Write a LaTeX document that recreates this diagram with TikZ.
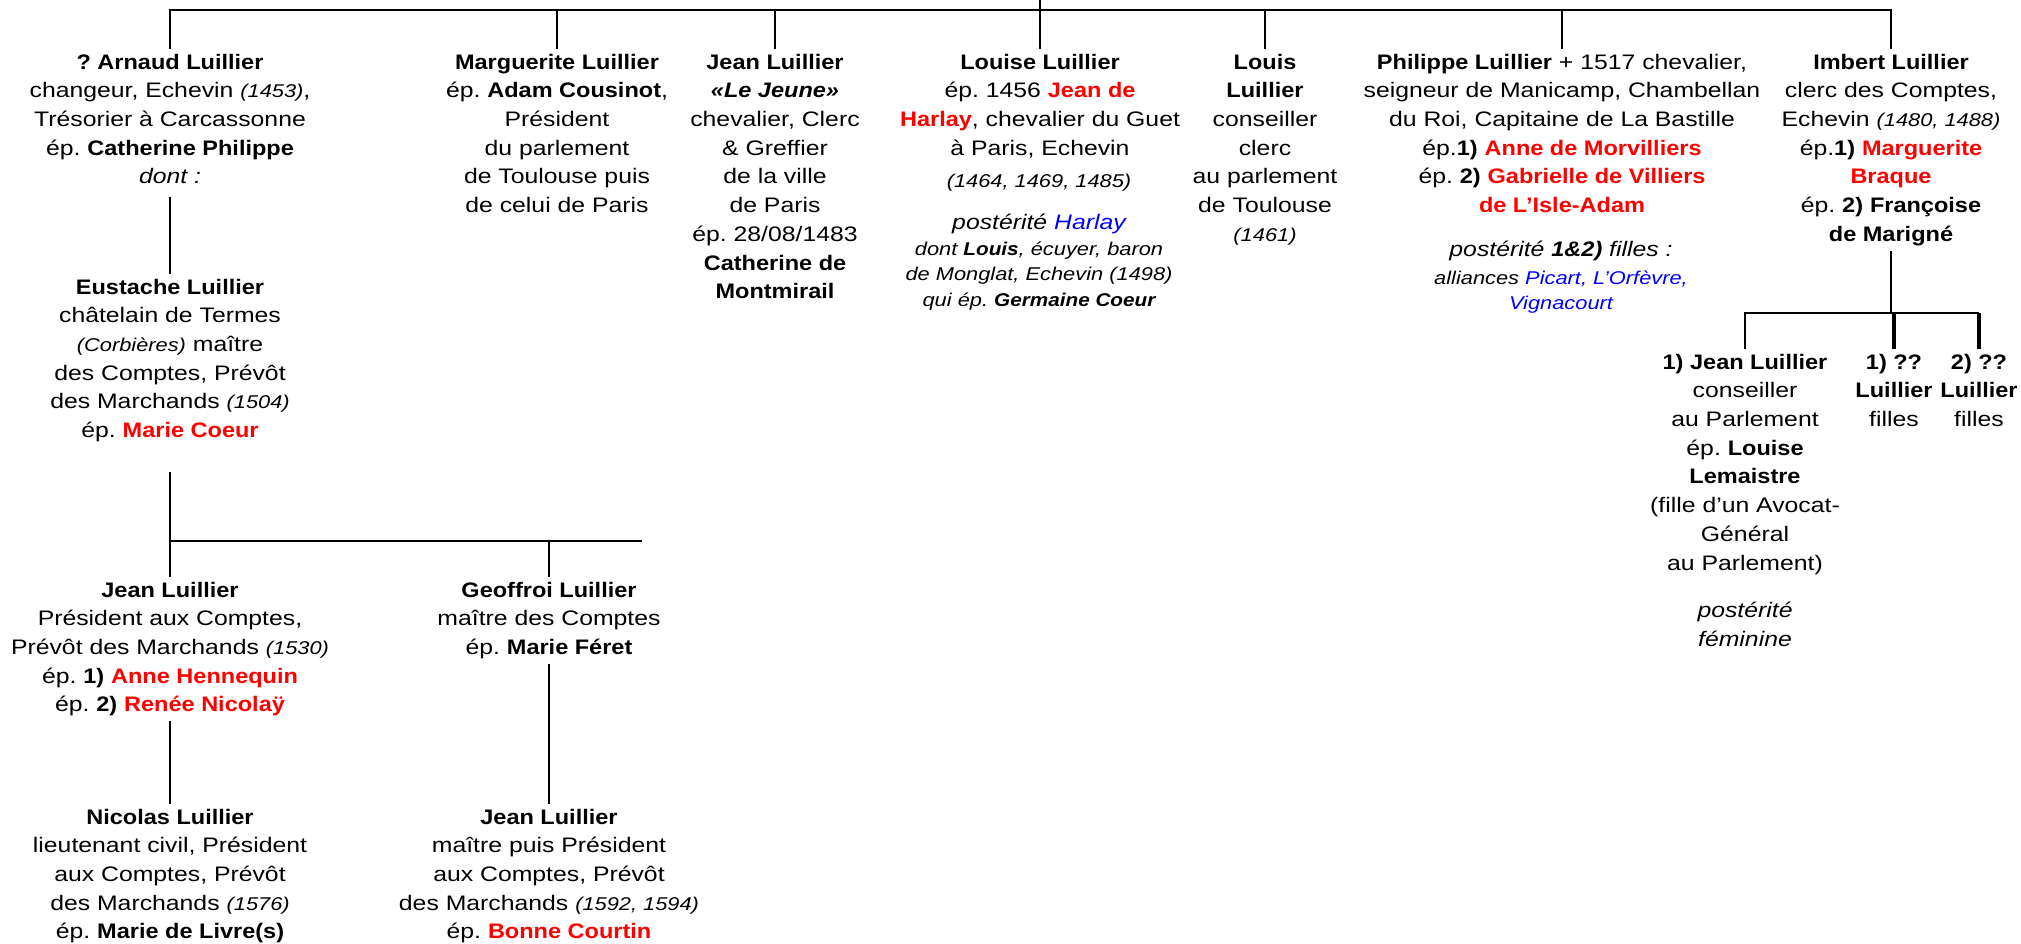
\documentclass[tikz,border=0pt]{standalone}
\usepackage{fontspec}
\setmainfont{Liberation Sans}[UprightFeatures={FakeStretch=1.18},ItalicFeatures={FakeStretch=1.18},BoldFeatures={FakeStretch=1.12},BoldItalicFeatures={FakeStretch=1.12}]
\usepackage{xcolor}
\definecolor{rouge}{RGB}{255,0,0}
\definecolor{bleu}{RGB}{0,0,255}
\newcommand{\petit}{\fontsize{18.5}{25.5}\selectfont}
\newcommand{\rouge}[1]{\textcolor{rouge}{\textbf{#1}}}
\newcommand{\bleu}[1]{\textcolor{bleu}{#1}}
\frenchspacing

\begin{document}
\begin{tikzpicture}[x=1pt,y=-1pt,
  personne/.style={align=center,anchor=north,inner xsep=0pt,inner ysep=5pt,font=\fontsize{21}{28.7}\selectfont},
  note/.style={align=center,anchor=north,inner xsep=0pt,inner ysep=5pt,font=\petit\itshape},
  lien/.style={line width=2pt},
  lienfort/.style={line width=3.5pt}]
\useasboundingbox (0,0) rectangle (2021,943);
% enfants
\node[personne] (arnaud) at (170,48.7) {\textbf{? Arnaud Luillier}\\changeur, Echevin {\petit\itshape (1453)},\\Trésorier à Carcassonne\\ép. \textbf{Catherine Philippe}\\\textit{dont :}};
\node[personne] (marguerite) at (557,48.7) {\textbf{Marguerite Luillier}\\ép. \textbf{Adam Cousinot},\\Président\\du parlement\\de Toulouse puis\\de celui de Paris};
\node[personne] (jeanjeune) at (775,48.7) {\textbf{Jean Luillier}\\\textbf{\textit{«Le Jeune»}}\\chevalier, Clerc\\\& Greffier\\de la ville\\de Paris\\ép. 28/08/1483\\\textbf{Catherine de}\\\textbf{Montmirail}};
\node[personne] (louise) at (1040,48.7) {\textbf{Louise Luillier}\\ép. 1456 \rouge{Jean de}\\\rouge{Harlay}, chevalier du Guet\\à Paris, Echevin};
\node[note] (louisedate) at (1039,168.5) {(1464, 1469, 1485)};
\node[personne] (louisepost) at (1039,208.7) {\textit{postérité \bleu{Harlay}}};
\node[note] (louisedont) at (1039,236.5) {dont \textbf{Louis}, écuyer, baron\\de Monglat, Echevin (1498)\\qui ép. \textbf{Germaine Coeur}};
\node[personne] (louis) at (1265,48.7) {\textbf{Louis}\\\textbf{Luillier}\\conseiller\\clerc\\au parlement\\de Toulouse\\{\petit\itshape (1461)}};
\node[personne] (philippe) at (1562,48.7) {\textbf{Philippe Luillier} + 1517 chevalier,\\seigneur de Manicamp, Chambellan\\du Roi, Capitaine de La Bastille\\ép.\textbf{1)} \rouge{Anne de Morvilliers}\\ép. \textbf{2)} \rouge{Gabrielle de Villiers}\\\rouge{de L’Isle-Adam}};
\node[personne] (philpost) at (1561,235.7) {\textit{postérité \textbf{1\&2)} filles :}};
\node[note] (philalli) at (1561,265.5) {alliances \bleu{Picart, L’Orfèvre,}\\\bleu{Vignacourt}};
\node[personne] (imbert) at (1891,48.7) {\textbf{Imbert Luillier}\\clerc des Comptes,\\Echevin {\petit\itshape (1480, 1488)}\\ép.\textbf{1)} \rouge{Marguerite}\\\rouge{Braque}\\ép. \textbf{2)} \textbf{Françoise}\\\textbf{de Marigné}};
% petits-enfants
\node[personne] (eustache) at (170,273.7) {\textbf{Eustache Luillier}\\châtelain de Termes\\{\petit\itshape (Corbières)} maître\\des Comptes, Prévôt\\des Marchands {\petit\itshape (1504)}\\ép. \rouge{Marie Coeur}};
\node[personne] (jeanfils) at (1745,348.7) {\textbf{1) Jean Luillier}\\conseiller\\au Parlement\\ép. \textbf{Louise}\\\textbf{Lemaistre}\\(fille d’un Avocat-\\Général\\au Parlement)};
\node[personne] (jeanfilspost) at (1745,596.7) {\textit{postérité}\\\textit{féminine}};
\node[personne] (fille1) at (1894,348.7) {\textbf{1) ??}\\\textbf{Luillier}\\filles};
\node[personne] (fille2) at (1979,348.7) {\textbf{2) ??}\\\textbf{Luillier}\\filles};
\node[personne] (jeanpres) at (170,576.7) {\textbf{Jean Luillier}\\Président aux Comptes,\\Prévôt des Marchands {\petit\itshape (1530)}\\ép. \textbf{1)} \rouge{Anne Hennequin}\\ép. \textbf{2)} \rouge{Renée Nicolaÿ}};
\node[personne] (geoffroi) at (549,576.7) {\textbf{Geoffroi Luillier}\\maître des Comptes\\ép. \textbf{Marie Féret}};
\node[personne] (nicolas) at (170,803.7) {\textbf{Nicolas Luillier}\\lieutenant civil, Président\\aux Comptes, Prévôt\\des Marchands {\petit\itshape (1576)}\\ép. \textbf{Marie de Livre(s)}};
\node[personne] (jeanmaitre) at (549,803.7) {\textbf{Jean Luillier}\\maître puis Président\\aux Comptes, Prévôt\\des Marchands {\petit\itshape (1592, 1594)}\\ép. \rouge{Bonne Courtin}};
% liens
\coordinate (racine) at (1040,0);
\coordinate (barre) at (1040,10);
\coordinate (bus2) at (642,541);
\coordinate (bus3) at (1893,313);
\draw[lien] (arnaud.north) |- (barre) -| (imbert.north);
\draw[lien] (racine) -- (louise.north);
\foreach \n in {marguerite,jeanjeune,louis,philippe}
  \draw[lien] (\n.north) -- (\n.north |- barre);
\draw[lien,shorten <=8pt] (arnaud.south) -- (eustache.north);
\draw[lien,shorten <=25pt] (eustache.south) -- (eustache.south |- bus2);
\draw[lien] (jeanpres.north) |- (bus2);
\draw[lien] (geoffroi.north) -- (geoffroi.north |- bus2);
\draw[lien] (jeanpres.south) -- (nicolas.north);
\draw[lien] (geoffroi.south) -- (jeanmaitre.north);
\draw[lien] (imbert.south) -- (imbert.south |- bus3);
\draw[lien] (jeanfils.north) |- (fille2.north |- bus3);
\draw[lienfort] (fille1.north) -- (fille1.north |- bus3);
\draw[lienfort] (fille2.north) -- (fille2.north |- bus3);
\end{tikzpicture}
\end{document}
